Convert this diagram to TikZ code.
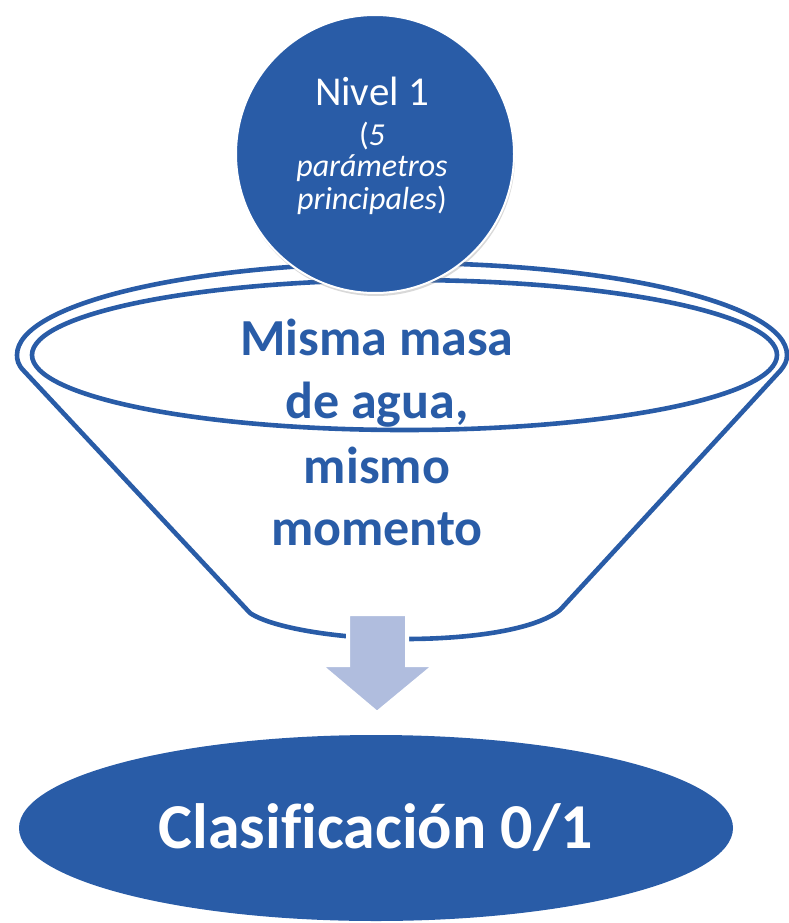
\documentclass[tikz,border=0pt]{standalone}
\usepackage{fontspec}
\setmainfont{Carlito}[Ligatures=NoCommon]
\usetikzlibrary{shadows,shapes.geometric}
\definecolor{dblue}{RGB}{41,92,167}
\definecolor{lblue}{RGB}{176,189,222}
\tikzset{
  funnelline/.style={draw=dblue, line width=4.6pt, line join=round},
  circtext/.style={text=white, inner sep=0pt, anchor=base},
  funneltext/.style={text=dblue, inner sep=0pt, anchor=base, font=\fontsize{52}{63}\selectfont\bfseries},
}
\begin{document}
\begin{tikzpicture}[x=1pt,y=-1pt]
\useasboundingbox (0,0) rectangle (788,923);
% funnel outer outline
\draw[funnelline] (250,613) -- (24,371) .. controls (18,365) and (17,360) .. (17,355)
  arc[start angle=180, end angle=0, x radius=385pt, y radius=92pt]
  .. controls (787,361) and (785,365) .. (780,371) -- (560,610)
  .. controls (535,630) and (470,639) .. (405,639)
  .. controls (340,639) and (272,628) .. (250,613) -- cycle;
% funnel inner rim
\draw[funnelline] (404.5,355) ellipse [x radius=372.5pt, y radius=75pt];
% arrow
\draw[draw=white, line width=4pt, fill=lblue, line join=miter]
  (348,614) -- (407,614) -- (407,665) -- (435,665) -- (377,713) -- (320,665) -- (348,665) -- cycle;
% top circle
\node[circle, minimum size=278pt, fill=dblue, draw=white, line width=2pt,
  drop shadow={shadow xshift=1pt, shadow yshift=-3pt, opacity=0.3}] (lvl) at (375,154) {};
\node[circtext, font=\fontsize{41}{43}\selectfont] (l1) at (372,106) {Nivel 1};
\node[circtext, font=\fontsize{32}{32}\selectfont] (l2) at (372,146) {(\textit{5}};
\node[circtext, font=\fontsize{32}{32}\selectfont] (l3) at (372,176.5) {\textit{parámetros}};
\node[circtext, font=\fontsize{32}{32}\selectfont] (l4) at (372,209) {\textit{principales})};
% funnel text
\node[funneltext] (f1) at (377,355) {Misma masa};
\node[funneltext] (f2) at (377,418) {de agua,};
\node[funneltext] (f3) at (377,483) {mismo};
\node[funneltext] (f4) at (377,545) {momento};
% bottom ellipse
\node[ellipse, minimum width=714pt, minimum height=186pt, fill=dblue, inner sep=0pt] (cls) at (376,828) {};
\node[text=white, inner sep=0pt, anchor=base, font=\fontsize{64}{70}\selectfont\bfseries] (clst) at (376,848) {Clasificación 0/1};
\end{tikzpicture}
\end{document}
